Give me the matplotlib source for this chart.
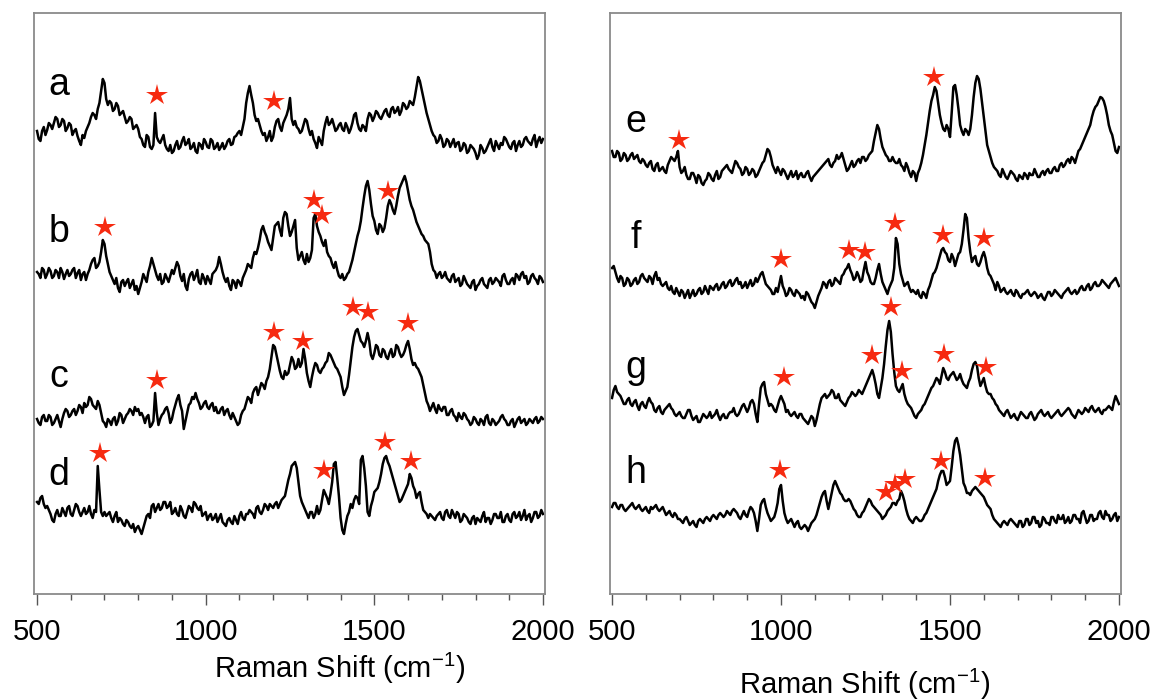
import matplotlib
matplotlib.use('Agg')
import matplotlib.pyplot as plt
import numpy as np

# spectra, intensity above each trace's own baseline (a.u.)
# main readings at 500, 510, ... 2000 cm-1
spec_a = [2, -8, 6, 3, 8, 10, 14, 8, 12, 5, 8, 2, -3, -12, -5, 6, 16, 18, 24, 42,
          50, 28, 30, 24, 27, 20, 16, 12, 14, 6, 4, -6, -14, -4, -16, 20, -8, -6, -12, -18,
          -20, -12, -16, -8, -12, -6, -14, -18, -10, -16, -9, -15, -8, -14, -17, -10, -13, -6, -11, -3,
          2, 6, 30, 47, 30, 12, 8, -2, -8, 2, -4, 12, 6, 10, 18, 35, 8, 6, 0, 8,
          12, -2, -6, -15, -8, 2, 16, 10, 8, 4, 10, 2, 6, 4, 18, 10, 2, 6, 14, 18,
          16, 20, 14, 22, 18, 24, 20, 26, 22, 28, 26, 30, 36, 56, 44, 28, 14, 2, -4, -8,
          -6, -12, -8, -10, -14, -9, -16, -12, -18, -14, -20, -22, -15, -18, -10, -14, -8, -16, -12, -6,
          -14, -10, -18, -8, -12, -4, -10, -6, -14, -4, -6]
spec_b = [4, -2, 6, 2, 5, 0, 4, 8, -3, 6, 2, 8, 3, -4, 4, 2, 12, 18, 10, 24,
          32, 12, 0, -8, -12, -6, -10, -3, -8, -14, -18, -6, -2, 4, 18, 6, -4, -8, 2, -6,
          6, 8, 10, -5, -10, -3, 4, 0, -6, 2, -8, -4, 2, 6, 19, 4, -6, -10, -4, -12,
          -6, -2, 6, 10, 18, 22, 36, 50, 40, 30, 38, 52, 46, 58, 62, 40, 50, 28, 20, 16,
          22, 18, 58, 50, 40, 30, 24, 18, 8, 6, -2, -4, 2, 10, 24, 40, 55, 80, 95, 72,
          55, 42, 50, 48, 70, 72, 62, 80, 92, 100, 85, 70, 60, 50, 42, 36, 32, 12, 4, 2,
          -2, 4, -4, 0, -6, -2, -8, -4, -10, -6, -14, -8, -2, -10, -4, -8, -2, -6, 0, -4,
          -8, -2, 2, -4, 4, 0, -6, 2, -4, 0, -6]
spec_c = [-2, -8, 2, -4, 0, -6, 2, -10, 4, 6, 2, 8, 6, 10, 14, 12, 18, 10, 16, 4,
          -6, -2, -8, 0, -4, 2, -2, 4, 6, 10, 8, 4, -6, 2, -8, 24, -8, 2, 8, 4,
          -2, 12, 22, 6, -4, 12, 20, 24, 14, 10, 16, 8, 14, 10, 4, 10, 6, 2, 4, -4,
          -6, 6, 14, 18, 24, 30, 28, 32, 36, 48, 72, 62, 46, 38, 42, 52, 56, 50, 50, 68,
          44, 30, 48, 52, 44, 50, 56, 62, 54, 48, 40, 22, 30, 56, 80, 88, 76, 70, 84, 62,
          64, 70, 60, 66, 58, 68, 62, 70, 60, 66, 76, 58, 54, 48, 40, 24, 12, 10, 8, 12,
          6, 10, 2, 8, 0, 4, -2, 2, -4, -6, -2, -8, -4, 0, -6, -2, -8, -4, 2, -4,
          -8, -2, -6, 0, -4, -8, -2, -6, 0, -4, -2]
spec_d = [6, 10, 4, 2, -6, -14, -2, -8, -4, 0, -6, -2, 2, -8, 0, -4, -6, -2, 42, -4,
          -4, -6, -10, -8, -14, -12, -18, -14, -20, -24, -18, -26, -14, -6, 2, -4, 4, 0, 6, 2,
          -6, 0, -8, -2, -10, 2, -4, 4, -2, -8, -4, -8, -12, -6, -10, -14, -18, -10, -16, -12,
          -8, -10, -6, -2, -6, 0, -4, -2, 2, 4, 0, 6, 4, 10, 20, 34, 44, 40, 12, 2,
          -6, -4, -10, 2, -2, 18, 10, 14, 44, 30, -10, -26, -8, 4, 8, 10, 48, 40, -4, 2,
          16, 20, 34, 50, 46, 36, 24, 12, 8, 16, 24, 30, 18, 14, 6, -4, -10, -8, -12, -6,
          -10, -4, -8, -2, -10, -6, -12, -8, -14, -10, -16, -12, -8, -14, -10, -12, -6, -10, -14, -8,
          -12, -6, -10, -4, -8, -12, -6, -10, -4, -8, -6]
spec_e = [14, 8, 12, 6, 10, 6, 12, 8, 4, 6, 0, 2, -4, 0, -6, -2, -8, 4, 6, 8,
          -2, -6, -10, -14, -8, -18, -12, -20, -14, -10, -16, -6, -12, -4, 0, -6, -2, 2, -4, -8,
          -4, -8, -6, -10, -2, 4, 16, 8, -4, -2, -10, -6, -14, -6, -10, -14, -8, -12, -6, -16,
          -10, -6, -2, 2, 6, -2, 4, 6, 12, 0, -4, 4, 0, 6, 8, 4, 10, 14, 32, 36,
          18, 10, 4, 8, 2, 6, -2, 2, -8, -6, -16, -4, 10, 30, 54, 70, 74, 50, 36, 40,
          28, 78, 70, 40, 30, 34, 36, 68, 89, 76, 48, 20, 8, -2, -6, -12, -8, -14, -6, -10,
          -16, -12, -8, -14, -10, -4, -12, -8, -10, -4, -8, -2, -6, 2, 0, 6, 8, 2, 14, 20,
          28, 36, 48, 58, 64, 67, 58, 40, 30, 14, 18]
spec_f = [20, 16, 6, 10, 4, 8, 4, 10, 6, 14, 8, 12, 4, 16, 10, 2, 6, -2, -4, 0,
          -8, -4, -6, -10, -2, -6, 0, -4, -2, 2, -2, 4, 0, 6, 2, 8, 4, 10, 6, 2,
          0, 8, 4, 6, 14, 10, 2, -2, -6, -4, 12, -2, -6, -2, -8, -4, -10, -12, -6, -14,
          -20, -8, 0, 4, 6, 2, 10, 6, 12, 18, 24, 14, 10, 12, 8, 26, 12, 4, 10, 24,
          6, -2, 0, 8, 50, 24, 8, 4, 0, -2, -6, -8, -4, -10, 2, 14, 20, 32, 40, 34,
          26, 30, 28, 36, 58, 70, 36, 30, 24, 26, 36, 20, 12, 4, 6, -4, 0, -6, -2, -8,
          -4, -10, -6, -2, -8, -4, -10, -6, -12, -4, -8, -2, -6, -10, -4, 0, -6, -2, -4, 2,
          -2, 4, 0, 6, 2, 8, 4, 0, 6, 10, 2]
spec_g = [10, 22, 14, 8, 4, 10, 2, 8, -2, 6, 0, 10, 4, -4, 2, -6, 0, 4, -2, -8,
          -4, -10, -6, -2, -12, -8, -14, -6, -10, -4, -8, -2, -12, -6, -10, -4, 0, -8, -2, 4,
          -4, 6, 4, -14, 20, 26, 8, 4, -2, 2, 12, 4, -2, -8, -4, -10, -6, -12, -16, -8,
          -18, -4, 10, 14, 12, 18, 10, 14, 6, 2, 10, 16, 12, 18, 14, 22, 30, 38, 24, 10,
          30, 62, 87, 54, 22, 16, 24, 8, 2, -4, -10, -4, 2, 8, 16, 22, 30, 24, 40, 30,
          32, 36, 28, 34, 24, 20, 30, 44, 42, 22, 30, 16, 14, 8, 2, -4, -8, -2, -10, -6,
          -12, -4, -8, -10, -4, -12, -6, -2, -8, -4, -10, -6, -2, -8, -4, 0, -6, -10, -2, -6,
          0, -4, 2, -4, 0, -6, -2, 2, -2, 12, 4]
spec_h = [6, 10, 4, 8, 2, 6, 10, 4, 8, 2, 6, 0, 4, 8, 2, 6, -2, 2, -4, -2,
          -6, -10, -4, -12, -8, -14, -6, -10, -4, -8, -2, -6, 0, -4, 2, -2, 4, 0, -6, 2,
          -4, 6, 0, -18, 8, 14, 0, -8, -4, 10, 28, 0, -10, -6, -14, -8, -16, -12, -18, -10,
          -6, 4, 16, 22, 4, 20, 32, 24, 18, 12, 14, 8, 2, -4, 0, 6, 14, 8, 4, 0,
          -6, -2, 4, 10, 8, 14, 18, 4, -6, -10, -4, -8, -6, 0, 8, 16, 24, 38, 42, 28,
          32, 62, 75, 58, 30, 20, 18, 24, 24, 20, 16, 8, 4, -6, -10, -14, -8, -12, -6, -10,
          -14, -8, -12, -6, -10, -4, -8, -12, -6, -10, -4, -8, -2, -6, -10, -4, -8, -2, -6, 0,
          -4, -8, -2, -6, 0, -4, 2, -2, -6, 0, -4]

# in-between readings at 505, 515, ... 1995 cm-1 (one row per 100 cm-1)
mid_a = [-6, 2, -2, 10, 4, 16, 6, 14, 2, 10,
         -2, 4, -8, -2, 2, 10, 20, 14, 30, 54,
         34, 32, 22, 30, 18, 22, 10, 16, 4, 8,
         -4, -12, -2, -14, -12, -4, -10, -2, -16, -12,
         -18, -8, -14, -4, -10, -16, -10, -20, -12, -6,
         -14, -6, -16, -10, -14, -16, -8, -12, -4, 0,
         -2, 14, 40, 38, 18, 14, 2, 0, -4, -8,
         6, 14, 2, 14, 24, 14, 12, 4, 2, 14,
         4, 2, -10, -4, -12, 10, 8, 14, 2, 8,
         4, 10, 0, 10, 20, 4, 8, 2, 20, 12,
         22, 16, 18, 24, 16, 26, 22, 18, 30, 24,
         32, 28, 46, 52, 36, 20, 8, -2, -10, -2,
         -14, -6, -14, -6, -10, -18, -10, -20, -12, -16,
         -26, -12, -20, -14, -6, -18, -12, -10, -4, -10,
         -16, -8, -12, -14, -6, -8, -12, -2, -8, -10]
mid_b = [2, 8, -2, 8, -2, 6, -2, 4, 2, 0,
         6, -2, 6, 2, -4, 6, 16, 8, 14, 36,
         20, 4, -4, -2, -16, -4, -6, -12, -4, -10,
         -12, 2, -6, 10, 12, 0, 2, -6, -2, 0,
         2, 14, 0, 2, -14, 2, -4, 6, -8, -2,
         0, -8, 4, 10, 12, -2, -2, -14, -6, -4,
         -10, 2, 12, 8, 24, 28, 46, 44, 34, 26,
         50, 54, 40, 64, 50, 44, 56, 16, 24, 12,
         14, 26, 62, 44, 34, 36, 20, 12, 14, 0,
         2, -2, 4, 16, 32, 46, 68, 90, 86, 60,
         46, 52, 44, 58, 76, 66, 70, 88, 96, 94,
         76, 66, 54, 46, 40, 34, 24, 6, -2, 4,
         0, -2, -6, 2, -4, -10, 0, -8, -12, -4,
         -10, -4, -8, -12, -2, -6, -4, -10, 2, -8,
         -4, -8, 0, 2, -2, -8, 0, -2, -8, -2]
mid_c = [-6, 0, -4, 2, -8, -2, -4, -2, 8, 0,
         6, 2, 12, 4, 10, 20, 12, 8, 12, -4,
         -10, -4, -2, -8, 4, -6, 2, 8, 2, 6,
         2, 0, 0, -10, -4, 4, -2, 4, 10, -6,
         6, 18, 12, -12, 4, 14, 18, 18, 8, 14,
         10, 12, 6, 4, 8, 2, 8, -2, 0, -8,
         2, 8, 20, 14, 28, 22, 34, 28, 40, 60,
         70, 54, 40, 46, 44, 60, 48, 58, 54, 58,
         36, 40, 54, 46, 48, 54, 64, 58, 50, 44,
         30, 26, 42, 70, 86, 82, 74, 76, 76, 58,
         72, 62, 68, 60, 64, 60, 72, 64, 62, 72,
         68, 52, 50, 44, 32, 16, 6, 14, 4, 8,
         10, 2, 6, 2, -4, 0, 4, -2, -8, 0,
         -6, -2, -8, 2, -8, -4, -6, 0, -2, -8,
         -4, -10, -2, -6, -2, -6, -4, -2, -6, 0]
mid_d = [4, 12, 0, -2, -12, -6, -8, 0, -8, 2,
         -8, 4, -4, -4, -6, 2, -10, -4, 18, -8,
         -8, -4, -14, -4, -10, -16, -12, -18, -16, -20,
         -22, -20, -8, -10, 4, 0, -2, 6, 0, 6,
         -4, -6, 2, -8, -4, 0, 6, 0, 2, -6,
         -12, -6, -10, -14, -6, -16, -12, -14, -8, -16,
         -4, -12, -6, -4, -10, 2, -6, 4, -2, 2,
         4, 0, 8, 12, 28, 42, 46, 26, 6, -2,
         -10, -4, -6, -6, 8, 14, 4, 26, 46, 12,
         -22, -16, -4, 0, 12, 4, 52, 22, -8, 8,
         18, 26, 44, 52, 42, 30, 18, 6, 12, 20,
         34, 22, 10, 16, -2, -6, -6, -10, -8, -4,
         -12, -2, -10, -6, -4, -14, -6, -10, -16, -8,
         -10, -14, -4, -10, -16, -6, -10, -4, -14, -6,
         -14, -4, -8, -12, -2, -8, -14, -4, -10, -2]
mid_e = [8, 14, 4, 12, 4, 10, 6, 10, 2, 4,
         -2, 4, -6, 2, -4, -6, 0, 8, 4, 14,
         -8, -2, -14, -8, -12, -10, -18, -16, -8, -14,
         -10, -14, -6, -2, -4, -8, 4, -2, -10, -2,
         -10, -4, -12, -6, 2, 10, 14, 0, -8, -6,
         -4, -10, -10, -12, -6, -10, -12, -8, -12, -12,
         -8, -4, 0, 4, 0, 2, 10, 8, 6, -6,
         0, -2, 4, 2, 8, 6, 12, 24, 40, 26,
         14, 8, 4, 4, 2, 0, -6, -2, -12, -8,
         -8, 2, 20, 42, 64, 78, 62, 42, 34, 36,
         52, 80, 56, 34, 36, 30, 50, 82, 86, 62,
         34, 14, 2, -4, -10, -4, -12, -10, -8, -14,
         -10, -14, -10, -8, -10, -8, -12, -6, -6, -8,
         -4, -6, 0, -2, 4, 2, 6, 8, 16, 24,
         32, 40, 54, 60, 68, 64, 50, 34, 22, 12]
mid_f = [22, 10, 12, 2, 10, 2, 8, 4, 12, 10,
         6, 10, 12, 8, 4, 4, 0, 2, -6, -4,
         -2, -10, -2, -6, -8, -2, -6, 2, -6, 0,
         2, -2, 4, 0, 6, 2, 8, 4, 0, 6,
         4, 2, 10, 10, 16, 4, 0, -6, 0, 4,
         2, -8, 0, -6, -2, -6, -8, -4, -10, -16,
         -14, -4, 6, 0, 8, 4, 8, 4, 14, 20,
         18, 8, 16, 6, 18, 16, 6, 4, 18, 14,
         2, -6, 4, 20, 44, 14, 2, 6, -4, -4,
         -2, -10, -6, -2, 8, 16, 26, 38, 36, 28,
         34, 22, 34, 44, 74, 50, 26, 32, 22, 32,
         30, 14, 8, -2, 2, -2, -4, -4, -6, -2,
         -8, -6, -4, -6, -6, -6, -8, -10, -8, -4,
         -6, -4, -8, -6, -2, -4, -4, -6, 0, -2,
         2, -2, 4, 2, 4, 6, 2, 4, 8, 6]
mid_g = [18, 16, 12, 4, 8, 4, 6, 2, 4, 2,
         6, 6, -2, 0, -4, -2, 2, 0, -6, -6,
         -8, -10, -2, -8, -10, -14, -10, -8, -8, -10,
         -6, -8, -8, -10, -6, -4, -6, -6, 2, 0,
         0, 8, -6, 4, 24, 14, 2, 2, -4, 8,
         8, -4, -6, -6, -8, -6, -10, -14, -12, -10,
         -12, 4, 12, 10, 14, 16, 10, 8, 4, 6,
         12, 14, 14, 16, 18, 26, 34, 32, 14, 20,
         44, 78, 76, 36, 18, 20, 14, 4, 0, -8,
         -6, -2, 4, 12, 20, 26, 28, 32, 36, 28,
         34, 32, 30, 28, 22, 26, 38, 46, 30, 26,
         22, 14, 10, 4, -2, -6, -4, -6, -8, -10,
         -8, -6, -10, -6, -8, -10, -4, -6, -6, -8,
         -8, -4, -6, -6, -2, -2, -8, -6, -4, -4,
         -2, 0, -2, -2, -4, -2, 0, 0, 6, 8]
mid_h = [10, 6, 8, 4, 4, 8, 6, 6, 4, 4,
         2, 6, 6, 4, 4, 2, 0, -2, 0, -6,
         -8, -6, -8, -10, -12, -8, -8, -6, -6, -4,
         -4, -2, -2, -2, 0, 2, 2, -4, -2, -2,
         2, 4, -8, -6, 12, 6, -4, -6, 2, 24,
         12, -6, -8, -10, -10, -14, -14, -14, -14, -8,
         -2, 10, 20, 12, 12, 28, 28, 20, 14, 12,
         12, 4, -2, -4, 2, 10, 12, 6, 2, -2,
         -4, 2, 6, 10, 12, 22, 12, -2, -8, -6,
         -6, -8, -2, 4, 12, 20, 32, 42, 36, 30,
         46, 72, 68, 44, 26, 20, 22, 26, 22, 18,
         12, 6, -2, -8, -12, -10, -10, -8, -8, -12,
         -8, -14, -6, -12, -4, -10, -14, -4, -10, -12,
         -4, -10, -6, -2, -8, -10, -2, -6, -10, 2,
         -10, -2, -8, -6, 2, -6, -2, -8, -2, -8]

# vertical offsets of the stacked traces
offsets_left = [461, 318, 177, 86]
offsets_right = [429, 306, 186, 81]
names_left = ['a', 'b', 'c', 'd']
names_right = ['e', 'f', 'g', 'h']

# starred bands: (Raman shift, height above trace baseline)
stars_a = [(856, 38), (1202, 32)]
stars_b = [(702, 49), (1321, 76), (1345, 61), (1540, 85)]
stars_c = [(856, 37), (1202, 85), (1288, 76), (1437, 110), (1481, 105), (1600, 94)]
stars_d = [(687, 55), (1351, 38), (1531, 66), (1609, 47)]
stars_e = [(698, 25), (1453, 88)]
stars_f = [(1000, 29), (1201, 38), (1249, 36), (1337, 65), (1479, 53), (1601, 50)]
stars_g = [(1009, 31), (1269, 53), (1326, 101), (1358, 37), (1482, 54), (1607, 41)]
stars_h = [(997, 43), (1311, 21), (1337, 29), (1367, 34), (1474, 52), (1604, 35)]

plt.rcParams['font.family'] = ['Liberation Sans', 'DejaVu Sans']
plt.rcParams['mathtext.default'] = 'regular'

STAR_RED = '#f62a10'


def merge(main, mid):
    # put the 10 cm-1 readings and the in-between readings in one sorted trace
    x = np.concatenate([np.linspace(500, 2000, len(main)), np.linspace(505, 1995, len(mid))])
    y = np.concatenate([main, mid])
    order = np.argsort(x)
    return x[order], y[order]


def draw_panel(ax, spectra, offsets, names, stars, label_y, label_x):
    for (main, mid), off, name, st, ly in zip(spectra, offsets, names, stars, label_y):
        x, y = merge(main, mid)
        ax.plot(x, y + off, color='black', lw=1.8)
        sx = [s[0] for s in st]
        sy = [s[1] + off for s in st]
        ax.plot(sx, sy, linestyle='none', marker='*', markersize=16,
                color=STAR_RED, markeredgewidth=0)
        ax.text(label_x, ly, name, fontsize=27, ha='center', va='baseline')

    ax.set_ylim(0, 581)
    ax.set_yticks([])
    ax.set_xticks([500, 1000, 1500, 2000])
    ax.set_xticks(np.arange(600, 2000, 100), minor=True)
    ax.tick_params(axis='x', which='major', direction='out', length=8, width=1,
                   color='#555555', labelsize=21, pad=9)
    ax.tick_params(axis='x', which='minor', direction='out', length=4, width=1,
                   color='#555555')
    for sp in ax.spines.values():
        sp.set_color('#8a8a8a')
        sp.set_linewidth(1.3)


def main():
    fig = plt.figure(figsize=(11.6, 7), dpi=100)
    ax1 = fig.add_axes([34 / 1160, 106 / 700, 511 / 1160, 581 / 700])
    ax2 = fig.add_axes([610 / 1160, 106 / 700, 511 / 1160, 581 / 700])
    ax1.set_xlim(491, 2006)
    ax2.set_xlim(494, 2006)

    draw_panel(ax1, [(spec_a, mid_a), (spec_b, mid_b), (spec_c, mid_c), (spec_d, mid_d)],
               offsets_left, names_left, [stars_a, stars_b, stars_c, stars_d],
               [499, 352, 207, 109], 565)
    draw_panel(ax2, [(spec_e, mid_e), (spec_f, mid_f), (spec_g, mid_g), (spec_h, mid_h)],
               offsets_right, names_right, [stars_e, stars_f, stars_g, stars_h],
               [462, 346, 216, 111], 571)

    fig.text(340 / 1160, 1 - 668 / 700, 'Raman Shift (cm$^{-1}$)', fontsize=21,
             ha='center', va='center')
    fig.text(865 / 1160, 1 - 684 / 700, 'Raman Shift (cm$^{-1}$)', fontsize=21,
             ha='center', va='center')

    fig.savefig('out.png', dpi=100)


if __name__ == '__main__':
    main()
